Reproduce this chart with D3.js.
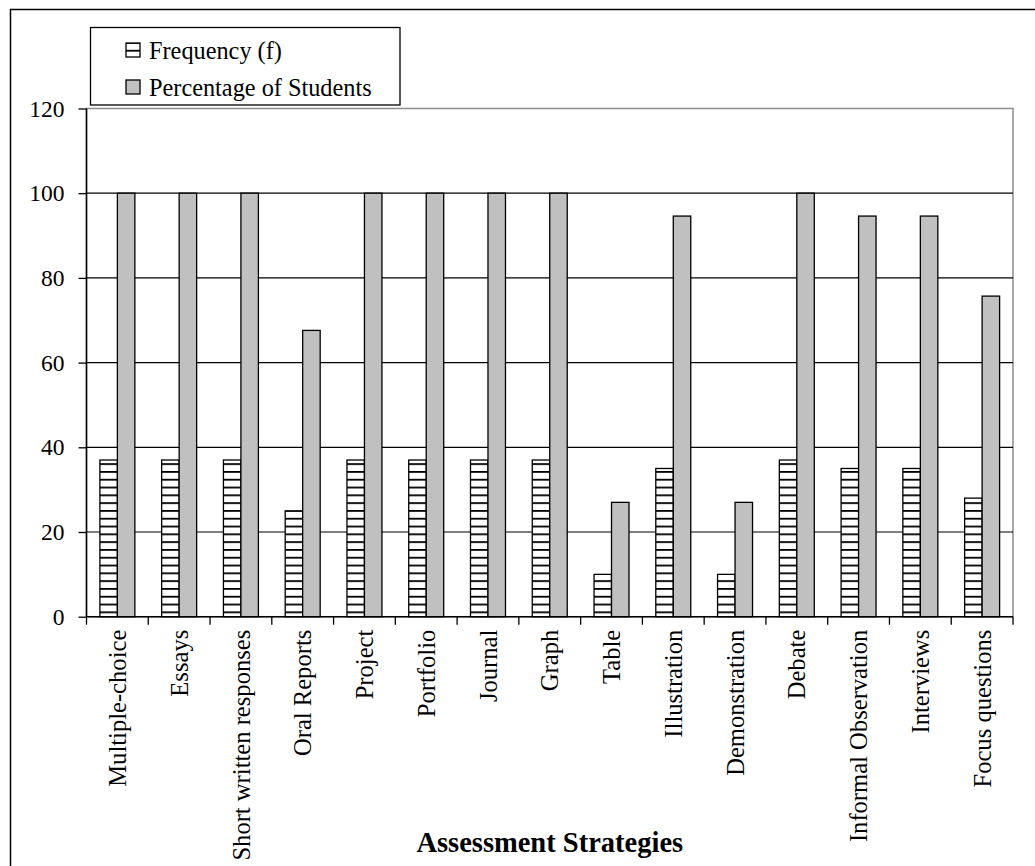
<!DOCTYPE html>
<html>
<head>
<meta charset="utf-8">
<script src="https://cdn.jsdelivr.net/npm/d3@7"></script>
<style>
  html, body { margin: 0; padding: 0; background: #fff; }
  svg { display: block; }
  svg text { font-family: "Liberation Serif", "Times New Roman", serif !important; fill: #000; }
</style>
</head>
<body>
<svg id="chart" width="1035" height="866"></svg>
<script>
const categories = ["Multiple-choice", "Essays", "Short written responses", "Oral Reports", "Project",
  "Portfolio", "Journal", "Graph", "Table", "Illustration", "Demonstration", "Debate",
  "Informal Observation", "Interviews", "Focus questions"];
const frequency = [37, 37, 37, 25, 37, 37, 37, 37, 10, 35, 10, 37, 35, 35, 28];
const percentage = [100, 100, 100, 67.6, 100, 100, 100, 100, 27.0, 94.6, 27.0, 100, 94.6, 94.6, 75.7];
const seriesNames = ["Frequency (f)", "Percentage of Students"];
const yTicks = [0, 20, 40, 60, 80, 100, 120];
const xTitle = "Assessment Strategies";

const svg = d3.select("#chart");
const defs = svg.append("defs");
const pat = defs.append("pattern").attr("id", "hatch").attr("patternUnits", "userSpaceOnUse")
  .attr("width", 8).attr("height", 7.8).attr("y", 3);
pat.append("rect").attr("width", 8).attr("height", 7.8).attr("fill", "#fff");
pat.append("rect").attr("y", 0).attr("width", 8).attr("height", 1.8).attr("fill", "#000");

// outer chart border
svg.append("rect").attr("x", 10.5).attr("y", 9.5).attr("width", 1040).attr("height", 880)
  .attr("fill", "none").attr("stroke", "#000").attr("stroke-width", 1.5);

const pLeft = 86.5, pRight = 1013, pTop = 108.5, pBottom = 616.7;
const x = d3.scaleBand().domain(categories).range([pLeft, pRight]).padding(0);
const xs = d3.scaleBand().domain(seriesNames).range([0, x.bandwidth()]).paddingInner(0).paddingOuter(0.766);
const y = d3.scaleLinear().domain([0, 120]).range([pBottom, pTop]);

// plot area border (gray top/right)
svg.append("rect").attr("x", pLeft).attr("y", y(120)).attr("width", pRight - pLeft).attr("height", pBottom - y(120))
  .attr("fill", "none").attr("stroke", "#8c8c8c").attr("stroke-width", 1.5);

// gridlines
svg.append("g").selectAll("line").data(yTicks.filter(d => d > 0 && d < 120)).join("line")
  .attr("x1", pLeft).attr("x2", pRight).attr("y1", d => y(d)).attr("y2", d => y(d))
  .attr("stroke", "#000").attr("stroke-width", 1.2);

// bars
const groups = svg.append("g").selectAll("g").data(categories).join("g")
  .attr("transform", d => `translate(${x(d)},0)`);
groups.append("rect")
  .attr("x", xs(seriesNames[0])).attr("width", xs.bandwidth())
  .attr("y", (d, i) => y(frequency[i])).attr("height", (d, i) => y(0) - y(frequency[i]))
  .attr("fill", "url(#hatch)").attr("stroke", "#000").attr("stroke-width", 1.3);
groups.append("rect")
  .attr("x", xs(seriesNames[1])).attr("width", xs.bandwidth())
  .attr("y", (d, i) => y(percentage[i])).attr("height", (d, i) => y(0) - y(percentage[i]))
  .attr("fill", "#c0c0c0").attr("stroke", "#000").attr("stroke-width", 1.3);

// y axis
const yAxis = svg.append("g").attr("transform", `translate(${pLeft},0)`)
  .call(d3.axisLeft(y).tickValues(yTicks).tickSize(8).tickPadding(14).tickFormat(d3.format("d")));
yAxis.attr("font-family", null).attr("font-size", null);
yAxis.select(".domain").attr("stroke", "#000").attr("stroke-width", 1.5).attr("d", `M0,${y(120)}V${pBottom}`);
yAxis.selectAll(".tick line").attr("stroke", "#000").attr("stroke-width", 1.3);
yAxis.selectAll(".tick text").style("font-size", "23.5px").attr("fill", "#000");

// x axis
const xAxis = svg.append("g").attr("transform", `translate(0,${pBottom})`);
xAxis.append("line").attr("x1", pLeft).attr("x2", pRight).attr("y1", 0).attr("y2", 0)
  .attr("stroke", "#000").attr("stroke-width", 1.5);
const boundaries = categories.map(c => x(c)).concat([x(categories[categories.length - 1]) + x.bandwidth()]);
xAxis.selectAll("line.tk").data(boundaries).join("line").attr("class", "tk")
  .attr("x1", d => d).attr("x2", d => d).attr("y1", 0).attr("y2", 8)
  .attr("stroke", "#000").attr("stroke-width", 1.3);
xAxis.selectAll("text").data(categories).join("text")
  .attr("transform", d => `translate(${x(d) + x.bandwidth() / 2},13) rotate(-90)`)
  .attr("text-anchor", "end").attr("dy", "0.35em").style("font-size", "24.6px").text(d => d);

// x title
svg.append("text").attr("x", (pLeft + pRight) / 2).attr("y", 852).attr("text-anchor", "middle")
  .style("font-size", "28.5px").attr("font-weight", "bold").text(xTitle);

// legend
const lg = svg.append("g");
lg.append("rect").attr("x", 90.5).attr("y", 27.5).attr("width", 309.5).attr("height", 77.5)
  .attr("fill", "#fff").attr("stroke", "#000").attr("stroke-width", 1.3);
const rows = [50, 87];
seriesNames.forEach((s, i) => {
  lg.append("rect").attr("x", 126).attr("y", rows[i] - 7).attr("width", 14).attr("height", 14)
    .attr("fill", i === 0 ? "url(#hatch)" : "#c0c0c0").attr("stroke", "#000").attr("stroke-width", 1.3);
  lg.append("text").attr("x", 149).attr("y", rows[i]).attr("dy", "0.35em").style("font-size", "24.3px").text(s);
});
</script>
</body>
</html>
